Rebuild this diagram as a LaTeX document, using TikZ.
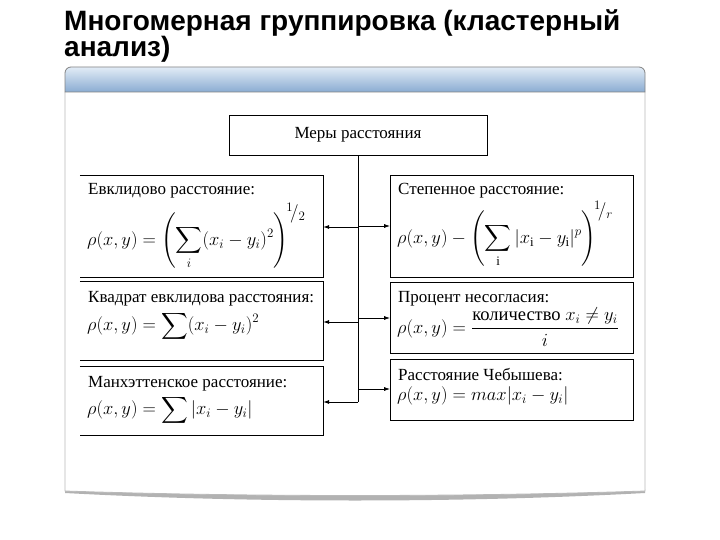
\RequirePackage{fix-cm}
\documentclass[tikz,border=0pt]{standalone}
\usepackage{amsmath,amssymb}
\usepackage{fontspec}
\setmainfont{Liberation Serif}
\newfontfamily\titlefont{Liberation Sans}
\newfontfamily\bodyserif{Liberation Serif}
\usetikzlibrary{arrows.meta,positioning}
\definecolor{hdrtop}{RGB}{226,236,246}
\definecolor{hdrmid}{RGB}{162,192,224}
\definecolor{hdrbot}{RGB}{138,172,210}
\definecolor{frm}{RGB}{185,185,185}
\newcommand{\slfrac}[2]{\textstyle{}^{#1}\!/_{#2}}

\begin{document}
\begin{tikzpicture}[x=1pt, y=-1pt, every node/.style={inner sep=0pt},
	bx/.style={minimum width=243pt},
	hd/.style={anchor=base west, font=\fontsize{17}{19}\selectfont},
	fm/.style={anchor=west, font=\fontsize{18.5}{21}\selectfont},
	arr/.style={-{Latex[length=6pt,width=4pt]}, line width=0.7pt}]
	\useasboundingbox (0,0) rectangle (720,540);
	% title
	\node[anchor=base west, font=\titlefont\bfseries\fontsize{28}{30}\selectfont] (ttl1) at (64,31) {Многомерная группировка (кластерный};
	\node[anchor=base west, font=\titlefont\bfseries\fontsize{28}{30}\selectfont] (ttl2) at (64,57) {анализ)};
	% window
	\fill[black!30] (65,489) .. controls (250,497) and (460,497) .. (645,489) -- (645,493) .. controls (460,503) and (250,503) .. (65,493) -- cycle;
	\draw[frm, line width=0.8pt, fill=white] (65,92) -- (65,491) .. controls (250,497) and (460,497) .. (645,491) -- (645,92);
	\shade[top color=hdrtop, middle color=hdrmid, bottom color=hdrbot] (65,92) [rounded corners=6pt] -- (65,67) -- (645,67) [sharp corners] -- (645,92) -- cycle;
	\draw[frm!70!black, line width=0.8pt] (65,92) [rounded corners=6pt] -- (65,67) -- (645,67) [sharp corners] -- (645,92) -- cycle;
	% boxes
	\node[draw, line width=0.9pt, minimum width=258pt, minimum height=40pt, font=\fontsize{17}{19}\selectfont] (top) at (358,135) {Меры расстояния};
	\node[bx, minimum height=101pt] (l1) at (201.5,226.5) {};
	\node[bx, minimum height=78pt] (l2) at (201.5,321) {};
	\node[bx, minimum height=68pt] (l3) at (201.5,401) {};
	\node[bx, draw, line width=0.9pt, minimum height=102pt] (r1) at (512,226) {};
	\node[bx, draw, line width=0.9pt, minimum height=71pt] (r2) at (512,317.5) {};
	\node[bx, draw, line width=0.9pt, minimum height=61pt] (r3) at (512,389.5) {};
	\foreach \b in {l1,l2,l3} {\draw[line width=0.9pt] (\b.north west) -- (\b.north east) -- (\b.south east) -- (\b.south west);}
	% texts
	\node[hd] (l1h) at (88,195) {Евклидово расстояние:};
	\node[fm] (l1f) at (87,236) {$\displaystyle\rho(x,y)=\Biggl(\sum\limits_i(x_i-y_i)^2\Biggr)^{\!\slfrac{1}{2}}$};
	\node[hd] (r1h) at (398,195) {Степенное расстояние:};
	\node[fm] (r1f) at (397,234) {$\displaystyle\rho(x,y)-\Biggl(\sum\limits_{\mathrm{i}}|x_{\mathrm{i}}-y_{\mathrm{i}}|^p\Biggr)^{\!\slfrac{1}{r}}$};
	\node[hd] (l2h) at (88,302) {Квадрат евклидова расстояния:};
	\node[fm] (l2f) at (87,326) {$\displaystyle\rho(x,y)=\sum(x_i-y_i)^2$};
	\node[hd] (r2h) at (398,302) {Процент несогласия:};
	\node[fm] (r2f) at (397,327) {$\displaystyle\rho(x,y)=\frac{\text{\bodyserif количество }x_i\neq y_i}{i}$};
	\node[hd] (l3h) at (88,387) {Манхэттенское расстояние:};
	\node[fm] (l3f) at (87,410) {$\displaystyle\rho(x,y)=\sum|x_i-y_i|$};
	\node[hd] (r3h) at (398,380) {Расстояние Чебышева:};
	\node[fm] (r3f) at (397,396) {$\rho(x,y)=max|x_i-y_i|$};
	% connectors
	\coordinate (tb) at (358,402);
	\draw[line width=0.7pt] (top.south) -- (tb);
	\foreach \y/\b in {226/r1, 318/r2, 389/r3} {\coordinate (j) at (358,\y); \draw[arr] (j) -- (j -| \b.west);}
	\foreach \y/\b in {227/l1, 322/l2} {\coordinate (j) at (358,\y); \draw[arr] (j) -- (j -| \b.east);}
	\draw[arr] (tb) -- (tb -| l3.east);
\end{tikzpicture}
\end{document}
